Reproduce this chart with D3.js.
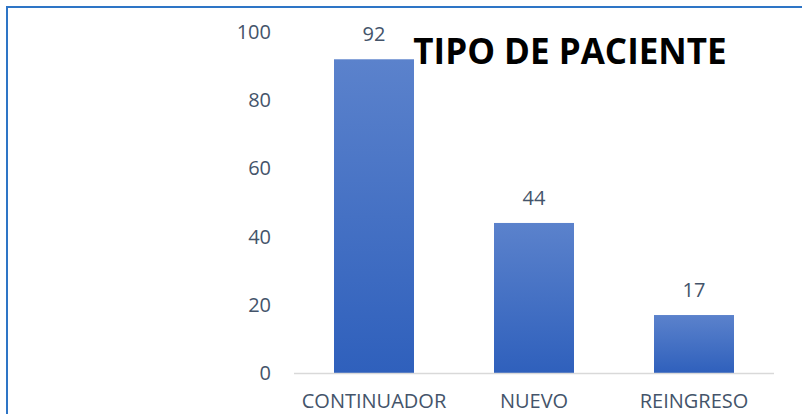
<!DOCTYPE html>
<html>
<head>
<meta charset="utf-8">
<script src="https://cdn.jsdelivr.net/npm/d3@7"></script>
<style>
html,body{margin:0;padding:0;background:#fff;}
svg{display:block;}
</style>
</head>
<body>
<svg id="chart" width="802" height="414"></svg>
<script>
const categories = ["CONTINUADOR", "NUEVO", "REINGRESO"];
const values = [92, 44, 17];
const yTicks = [0, 20, 40, 60, 80, 100];
const title = "TIPO DE PACIENTE";

const svg = d3.select("#chart");
const W = 802, H = 414;
const font = "'Open Sans', 'Liberation Sans', sans-serif";
const textColor = "#44546A";

// frame (top and left border)
svg.append("path")
  .attr("d", `M7,${H} L7,7 L${W},7`)
  .attr("fill", "none")
  .attr("stroke", "#2E75C6")
  .attr("stroke-width", 2);

const x = d3.scaleBand().domain(categories).range([294, 774]).paddingInner(0.5).paddingOuter(0.25);
const y = d3.scaleLinear().domain([0, 100]).range([373, 32]);

const defs = svg.append("defs");
const grad = defs.append("linearGradient").attr("id", "barGrad")
  .attr("x1", 0).attr("y1", 0).attr("x2", 0).attr("y2", 1);
grad.append("stop").attr("offset", "0%").attr("stop-color", "#5B82CC");
grad.append("stop").attr("offset", "100%").attr("stop-color", "#2F60BC");

// y tick labels
svg.append("g").selectAll("text").data(yTicks).join("text")
  .attr("x", 271)
  .attr("y", d => y(d) + 7)
  .attr("text-anchor", "end")
  .attr("font-family", font)
  .attr("font-size", 20)
  .attr("fill", textColor)
  .text(d => d);

// bars
svg.append("g").selectAll("rect").data(values).join("rect")
  .attr("x", (d, i) => x(categories[i]))
  .attr("y", d => y(d))
  .attr("width", x.bandwidth())
  .attr("height", d => y(0) - y(d))
  .attr("fill", "url(#barGrad)");

// baseline axis
svg.append("line")
  .attr("x1", 294).attr("x2", 774)
  .attr("y1", y(0) + 0.5).attr("y2", y(0) + 0.5)
  .attr("stroke", "#D9D9D9").attr("stroke-width", 1.5);

// value labels
svg.append("g").selectAll("text").data(values).join("text")
  .attr("x", (d, i) => x(categories[i]) + x.bandwidth() / 2)
  .attr("y", d => y(d) - 18)
  .attr("text-anchor", "middle")
  .attr("font-family", font)
  .attr("font-size", 20)
  .attr("fill", textColor)
  .text(d => d);

// category labels
svg.append("g").selectAll("text").data(categories).join("text")
  .attr("x", d => x(d) + x.bandwidth() / 2)
  .attr("y", 408)
  .attr("text-anchor", "middle")
  .attr("font-family", font)
  .attr("font-size", 20)
  .attr("fill", textColor)
  .text(d => d);

// title
svg.append("text")
  .attr("x", 570)
  .attr("y", 64)
  .attr("text-anchor", "middle")
  .attr("font-family", font)
  .attr("font-weight", "bold")
  .attr("font-size", 35)
  .attr("fill", "#000")
  .text(title);
</script>
</body>
</html>
